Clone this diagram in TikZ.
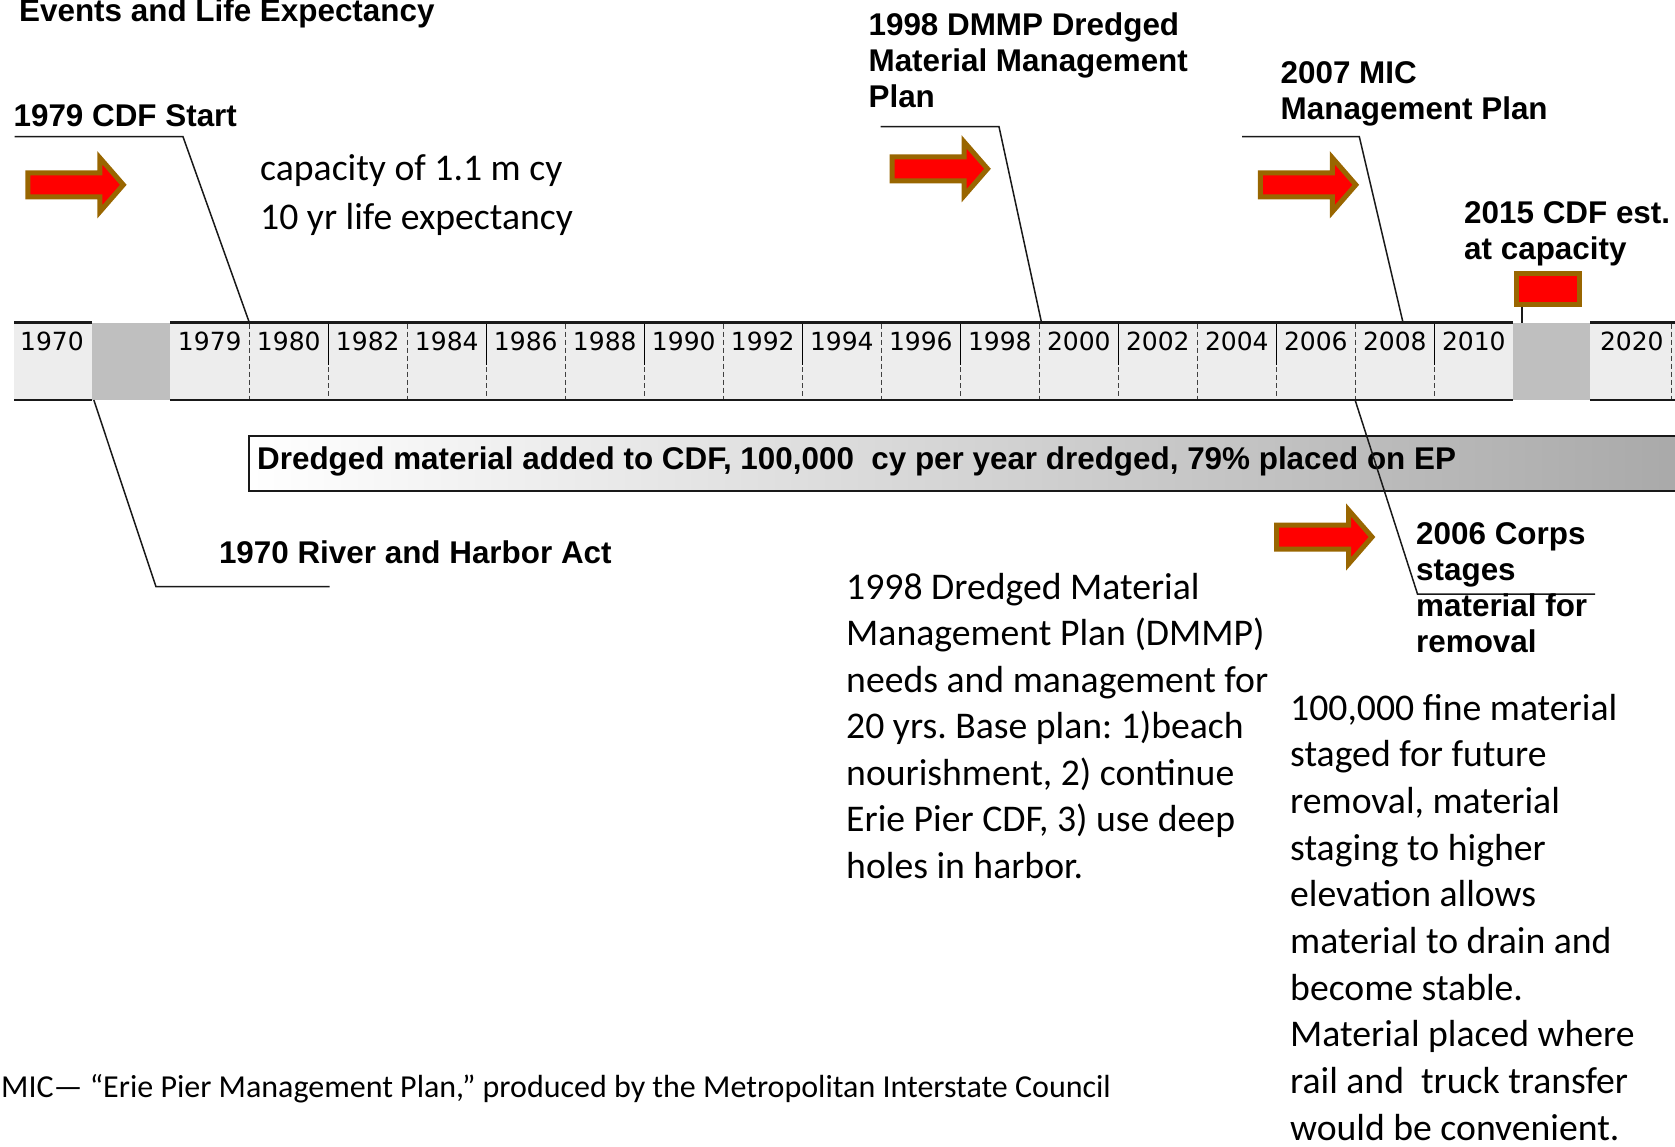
\documentclass[tikz,border=0pt]{standalone}
\usepackage{fontspec}
\setmainfont{Carlito}
\newfontfamily\lblfont{Liberation Sans}
\newfontfamily\yrfont{DejaVu Sans}
\usetikzlibrary{shadings}
\frenchspacing

\definecolor{barfill}{HTML}{EDEDED}
\definecolor{breakfill}{HTML}{BFBFBF}
\definecolor{arrowred}{HTML}{FF0000}
\definecolor{arrowrim}{HTML}{996600}
\definecolor{sepgray}{HTML}{404040}
\definecolor{boxgray}{HTML}{A8A8A8}

% a block of lines whose baseline is the baseline of its first line
\newcommand\linestack[2]{\vtop{\baselineskip=#1\lineskiplimit=-1000pt\relax #2}}

\tikzset{
  lbl/.style={anchor=base west, inner sep=0pt, font=\lblfont\bfseries\fontsize{31.4pt}{36pt}\selectfont},
  body/.style={anchor=base west, inner sep=0pt, font=\fontsize{37.7pt}{46.6pt}\selectfont},
  srcnote/.style={anchor=base west, inner sep=0pt, font=\fontsize{32pt}{38pt}\selectfont},
  yr/.style={anchor=base, inner sep=0pt, font=\yrfont\fontsize{25pt}{30pt}\selectfont},
  leader/.style={draw=black!90, line width=1.5pt},
  sepsolid/.style={draw=black, line width=1.6pt},
  sepdash/.style={draw=sepgray, line width=1.2pt, dash pattern=on 5pt off 3pt},
  barline/.style={draw=black!90, line width=2.2pt},
  arrowbody/.style={fill=arrowred, draw=arrowrim, line width=5pt, line join=miter},
  redarrow/.pic={
    \path[arrowbody] (2.5,-12) -- (74.5,-12) -- (74.5,-27) -- (98,0)
      -- (74.5,27) -- (74.5,12) -- (2.5,12) -- cycle;
  },
}

\begin{document}
\begin{tikzpicture}[x=1pt,y=-1pt]
\useasboundingbox (0,0) rectangle (1675,1146);
\clip (0,0) rectangle (1675,1146);

% ---------- time bar ----------
\fill[barfill] (14,322.5) rectangle (1690,400);
\fill[breakfill] (92,322.5) rectangle (170,400);
\fill[breakfill] (1513.3,322.5) rectangle (1590,400);

% cell separators: dashed between odd years, solid-topped at major marks
\foreach \k in {0,2,...,14}
  \draw[sepdash] ({249.3+79*\k},323.5) -- ({249.3+79*\k},400);
\foreach \k in {1,3,...,15}{
  \draw[sepsolid] ({249.3+79*\k},322.5) -- ({249.3+79*\k},365);
  \draw[sepdash] ({249.3+79*\k},367) -- ({249.3+79*\k},400);
}
\draw[sepdash] (1671.3,323.5) -- (1671.3,400);

% top and bottom edges, broken at the two gaps
\foreach \yy in {322.5,400}{
  \draw[barline] (14,\yy) -- (92,\yy);
  \draw[barline] (170,\yy) -- (1513.3,\yy);
  \draw[barline] (1590,\yy) -- (1690,\yy);
}

% year labels
\node[yr] (y1970) at (52,350.7) {1970};
\node[yr] (y1979) at (209.8,350.7) {1979};
\foreach \j in {0,...,15}{
  \pgfmathtruncatemacro\yv{1980+2*\j}
  \node[yr] (y\yv) at ({288.8+79*\j},350.7) {\yv};
}
\node[yr] (y2020) at (1631.8,350.7) {2020};

% ---------- dredging band ----------
\coordinate (bandNW) at (249,436);
\coordinate (bandSE) at (1700,490.7);
\draw[line width=2.2pt, draw=black!90, left color=white, right color=boxgray]
  (bandNW) rectangle (bandSE);
\node[lbl] (bandtext) at (257,469.5)
  {Dredged material added to CDF, 100,000~ cy per year dredged, 79\% placed on EP};

% ---------- leader lines ----------
\coordinate (cdfA) at (14.5,136.7);
\coordinate (cdfB) at (183,136.7);
\coordinate (cdfC) at (249.3,322.5);
\draw[leader] (cdfA) -- (cdfB) -- (cdfC);

\coordinate (dmmpA) at (880.5,126.7);
\coordinate (dmmpB) at (999,126.7);
\coordinate (dmmpC) at (1041.5,322.5);
\draw[leader] (dmmpA) -- (dmmpB) -- (dmmpC);

\coordinate (micA) at (1242,136.7);
\coordinate (micB) at (1359.3,136.7);
\coordinate (micC) at (1403,322.5);
\draw[leader] (micA) -- (micB) -- (micC);

\coordinate (rhaA) at (93.8,400);
\coordinate (rhaB) at (156,586.7);
\coordinate (rhaC) at (329.5,586.7);
\draw[leader] (rhaA) -- (rhaB) -- (rhaC);

\coordinate (corpsA) at (1355.4,401);
\coordinate (corpsB) at (1417.5,594);
\coordinate (corpsC) at (1595,594);
\draw[leader] (corpsA) -- (corpsB) -- (corpsC);

% ---------- capacity flag ----------
\node[draw=arrowrim, fill=arrowred, line width=5pt, inner sep=0pt,
      minimum width=63.5pt, minimum height=31pt] (flag) at (1548.2,288.7) {};
\coordinate (poleTop) at (1522,306.7);
\coordinate (poleFoot) at (1522,322.5);
\draw[leader] (poleTop) -- (poleFoot);

% ---------- event arrows ----------
\pic at (25.3,184.8) {redarrow};
\pic at (889.5,168.8) {redarrow};
\pic at (1257.8,184.8) {redarrow};
\pic at (1274,537) {redarrow};

% ---------- labels ----------
\node[lbl] (title) at (19,21) {Events and Life Expectancy};
\node[lbl] (cdfstart) at (13.4,126) {1979 CDF Start};
\node[lbl] (dmmp) at (868.4,35)
  {\linestack{36pt}{\hbox{1998 DMMP Dredged}\hbox{Material Management}\hbox{Plan}}};
\node[lbl] (mic) at (1280.5,83.5)
  {\linestack{36pt}{\hbox{2007 MIC}\hbox{Management Plan}}};
\node[lbl] (capest) at (1464,223.5)
  {\linestack{36pt}{\hbox{2015 CDF est.}\hbox{at capacity}}};
\node[lbl] (rha) at (218.8,563) {1970 River and Harbor Act};
\node[lbl] (corps) at (1416,544)
  {\linestack{36pt}{\hbox{2006 Corps}\hbox{stages}\hbox{material for}\hbox{removal}}};

\node[body] (capnote) at (260,180.5)
  {\linestack{48.5pt}{\hbox{capacity of 1.1 m cy}\hbox{10 yr life expectancy}}};

\node[body] (dmmpnote) at (846,599.3)
  {\linestack{46.5pt}{%
    \hbox{1998 Dredged Material}
    \hbox{Management Plan (DMMP)}
    \hbox{needs and management for}
    \hbox{20 yrs. Base plan: 1)beach}
    \hbox{nourishment, 2) continue}
    \hbox{Erie Pier CDF, 3) use deep}
    \hbox{holes in harbor.}}};

\node[body] (corpsnote) at (1290,720)
  {\linestack{46.67pt}{%
    \hbox{100,000 fine material}
    \hbox{staged for future}
    \hbox{removal, material}
    \hbox{staging to higher}
    \hbox{elevation allows}
    \hbox{material to drain and}
    \hbox{become stable.}
    \hbox{Material placed where}
    \hbox{rail and~ truck transfer}
    \hbox{would be convenient.}}};

\node[srcnote] (source) at (1,1097.3)
  {MIC— “Erie Pier Management Plan,” produced by the Metropolitan Interstate Council};
\end{tikzpicture}
\end{document}
